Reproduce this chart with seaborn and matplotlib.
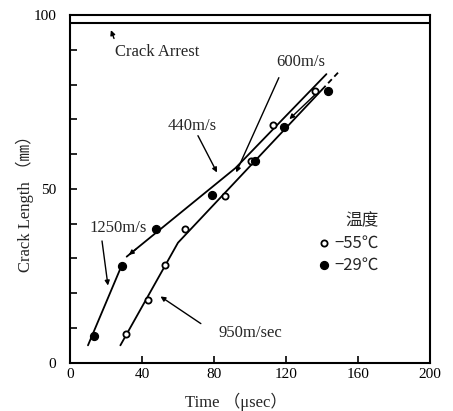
"""Crack length vs time for two test temperatures."""

import matplotlib
matplotlib.use("Agg")
import matplotlib.pyplot as plt
import numpy as np
import pandas as pd
import seaborn as sns

# measured points
t_m55 = [31.0, 43.5, 53.0, 63.8, 86.0, 100.5, 113.0, 136.0]
len_m55 = [8.2, 18.0, 28.0, 38.4, 48.0, 58.0, 68.4, 78.2]
t_m29 = [13.3, 28.7, 48.0, 78.7, 103.0, 119.2, 143.5]
len_m29 = [7.8, 27.8, 38.4, 48.2, 58.0, 67.9, 78.0]

# hand-drawn velocity fits
fit29_lo_t = [10.0, 29.0]
fit29_lo_len = [5.0, 28.3]
fit29_hi_t = [31.5, 92.0, 142.5]
fit29_hi_len = [30.5, 56.0, 83.0]
fit55_t = [28.0, 60.0, 140.0]
fit55_len = [5.0, 34.5, 78.5]
fit55_ext_t = [140.0, 150.0]
fit55_ext_len = [78.5, 84.0]

arrest_len = 97.6

sns.set_theme(style="ticks")
plt.rcParams["font.family"] = ["Liberation Serif", "Noto Sans CJK SC", "DejaVu Sans"]

fig = plt.figure(figsize=(4.53, 4.11), dpi=100)
ax = fig.add_axes([0.1545, 0.1175, 0.7945, 0.846])

pts = pd.DataFrame({
    "t": t_m55 + t_m29,
    "len": len_m55 + len_m29,
    "temp": ["−55℃"] * len(t_m55) + ["−29℃"] * len(t_m29),
})

lw = 1.3
sns.lineplot(x=fit29_lo_t, y=fit29_lo_len, sort=False, color="black", lw=lw, ax=ax)
sns.lineplot(x=fit29_hi_t, y=fit29_hi_len, sort=False, color="black", lw=lw, ax=ax)
sns.lineplot(x=fit55_t, y=fit55_len, sort=False, color="black", lw=lw, ax=ax)
sns.lineplot(x=fit55_ext_t, y=fit55_ext_len, sort=False, color="black", lw=lw,
             linestyle=(0, (3, 2)), ax=ax)
ax.axhline(arrest_len, color="black", lw=1.5)

sub55 = pts[pts.temp == "−55℃"]
sub29 = pts[pts.temp == "−29℃"]
ax.scatter(sub55.t, sub55.len, s=20, facecolors="white", edgecolors="black",
           linewidths=1.3, zorder=5, label="−55℃")
ax.scatter(sub29.t, sub29.len, s=32, color="black", zorder=5, label="−29℃")

arrow = dict(arrowstyle="-|>", color="black", lw=1.0, mutation_scale=7)
fs = 12

ax.annotate("", xy=(22.2, 96.4), xytext=(25, 92.5), arrowprops=arrow)
ax.text(25, 89.5, "Crack Arrest", fontsize=fs, ha="left", va="center")

ax.text(128.3, 86.5, "600m/s", fontsize=fs, ha="center", va="center")
ax.annotate("", xy=(91.7, 54.0), xytext=(116.7, 82.7), arrowprops=arrow)
ax.annotate("", xy=(120.8, 69.5), xytext=(137, 77.5), arrowprops=arrow)

ax.text(67.8, 68.0, "440m/s", fontsize=fs, ha="center", va="center")
ax.annotate("", xy=(82.4, 54.0), xytext=(70.4, 66.0), arrowprops=arrow)

ax.text(26.9, 38.8, "1250m/s", fontsize=fs, ha="center", va="center")
ax.annotate("", xy=(21.3, 21.4), xytext=(17.6, 35.8), arrowprops=arrow)
ax.annotate("", xy=(31.5, 30.5), xytext=(38.0, 33.2), arrowprops=arrow)

ax.text(100.4, 8.5, "950m/sec", fontsize=fs, ha="center", va="center")
ax.annotate("", xy=(49.0, 19.5), xytext=(74.0, 10.8), arrowprops=arrow)

leg = ax.legend(title="温度", loc="upper left", bbox_to_anchor=(0.65, 0.465),
                frameon=False, fontsize=12, title_fontsize=12,
                handletextpad=0.1, handlelength=1.0, labelspacing=0.3,
                borderpad=0.2, alignment="right")
for txt in leg.get_texts():
    txt.set_family(["Noto Sans CJK SC", "DejaVu Sans"])
leg.get_title().set_family(["Noto Sans CJK SC", "DejaVu Sans"])

ax.set_xlim(0, 200)
ax.set_ylim(0, 100)
ax.set_xticks([0, 40, 80, 120, 160, 200])
ax.set_yticks(np.arange(0, 101, 10))
ax.set_yticklabels(["0", "", "", "", "", "50", "", "", "", "", "100"])
ax.tick_params(direction="in", length=5, width=1.2, labelsize=11, colors="black")
ax.tick_params(axis="y", pad=10)
for sp in ax.spines.values():
    sp.set_visible(True)
    sp.set_linewidth(1.5)
    sp.set_color("black")

ax.set_xlabel("Time （μsec）", fontsize=fs)
ax.set_ylabel("Crack Length （㎜）", fontsize=fs)
ax.xaxis.set_label_coords(0.46, -0.085)
ax.yaxis.set_label_coords(-0.10, 0.47)

fig.savefig("out.png", dpi=100)
